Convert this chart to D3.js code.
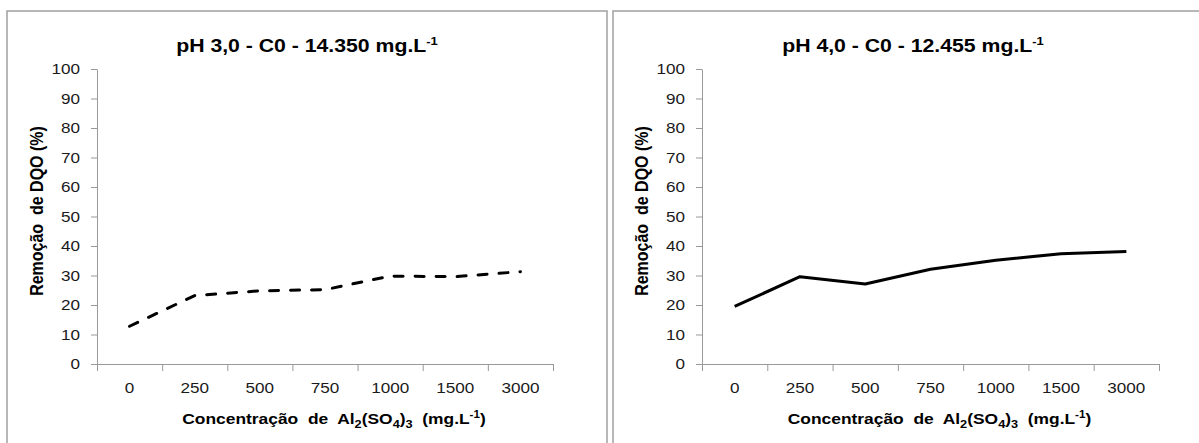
<!DOCTYPE html>
<html>
<head>
<meta charset="utf-8">
<script src="https://cdn.jsdelivr.net/npm/d3@7"></script>
<style>
  html, body { margin: 0; padding: 0; background: #fff; }
  svg text { font-family: "Liberation Sans", Arial, sans-serif; white-space: pre; }
</style>
</head>
<body>
<div class="d3"></div>
<script>
// data
const categories = ['0', '250', '500', '750', '1000', '1500', '3000'];
const removalPh3 = [12.8, 23.2, 24.8, 25.2, 29.8, 29.6, 31.3];
const removalPh4 = [19.5, 29.6, 27.1, 32.1, 35.2, 37.4, 38.1];
const yTicks = [0, 10, 20, 30, 40, 50, 60, 70, 80, 90, 100];
const titles = ['pH 3,0 - C0 - 14.350 mg.L', 'pH 4,0 - C0 - 12.455 mg.L'];

(() => {
  let width = 1199;
  let height = 443;
  let sx = 1.18; // source picture is stretched sideways

  let svg = d3
    .select('.d3')
    .append('svg')
    .attr('width', width)
    .attr('height', height);

  let panels = [
    { left: 7, axisX: 97, axisEnd: 553, values: removalPh3, title: titles[0], dashed: true },
    { left: 613, axisX: 702, axisEnd: 1159, values: removalPh4, title: titles[1], dashed: false }
  ];

  let y = d3.scaleLinear().domain([0, 100]).range([364, 69]);

  panels.forEach(p => {
    let g = svg.append('g');

    g.append('rect')
      .attr('x', p.left)
      .attr('y', 11)
      .attr('width', 600)
      .attr('height', 500)
      .attr('fill', 'none')
      .attr('stroke', '#a0a0a0')
      .attr('stroke-width', 1.5);

    let x = d3.scaleBand().domain(categories).range([p.axisX, p.axisEnd]).padding(0);

    // title
    let cx = (p.left + 300);
    let t = g.append('text')
      .attr('transform', `translate(${cx},52) scale(${sx},1)`)
      .attr('text-anchor', 'middle')
      .attr('font-size', 18)
      .attr('font-weight', 'bold')
      .attr('fill', '#000');
    t.append('tspan').text(p.title);
    t.append('tspan').attr('font-size', 11).attr('dy', -7).text('-1');

    // y axis
    let yAxis = g.append('g')
      .attr('transform', `translate(${p.axisX},0)`)
      .call(d3.axisLeft(y).tickValues(yTicks).tickSize(6).tickSizeOuter(0));
    yAxis.select('.domain').attr('stroke', '#999');
    yAxis.selectAll('.tick line').attr('stroke', '#999');
    yAxis.selectAll('.tick text')
      .attr('x', -17 / sx)
      .attr('transform', `scale(${sx},1)`)
      .attr('font-size', 14.5)
      .attr('fill', '#1a1a1a');

    // x axis: boundary ticks
    let edges = d3.scaleLinear().domain([0, categories.length]).range([p.axisX, p.axisEnd]);
    let xTicks = g.append('g')
      .attr('transform', 'translate(0,364)')
      .call(d3.axisBottom(edges)
        .tickValues(categories.map((c, i) => i).concat([categories.length]))
        .tickSize(7)
        .tickSizeOuter(0)
        .tickFormat(''));
    xTicks.select('.domain').attr('stroke', '#999');
    xTicks.selectAll('.tick line').attr('stroke', '#999');

    // x axis: category labels
    let xLabels = g.append('g')
      .attr('transform', 'translate(0,364)')
      .call(d3.axisBottom(x).tickSize(0));
    xLabels.select('.domain').remove();
    xLabels.selectAll('.tick text')
      .attr('y', 29)
      .attr('dy', 0)
      .attr('transform', `scale(${sx},1)`)
      .attr('font-size', 14.5)
      .attr('fill', '#1a1a1a');

    // x axis title
    let xt = g.append('text')
      .attr('transform', `translate(${(p.axisX + p.axisEnd) / 2 + 9},424) scale(1.16,1)`)
      .attr('text-anchor', 'middle')
      .attr('font-size', 15)
      .attr('font-weight', 'bold')
      .attr('fill', '#000');
    xt.append('tspan').text('Concentração  de  Al');
    xt.append('tspan').attr('font-size', 11).attr('dy', 4).text('2');
    xt.append('tspan').attr('dy', -4).text('(SO');
    xt.append('tspan').attr('font-size', 11).attr('dy', 4).text('4');
    xt.append('tspan').attr('dy', -4).text(')');
    xt.append('tspan').attr('font-size', 11).attr('dy', 4).text('3');
    xt.append('tspan').attr('dy', -4).text('  (mg.L');
    xt.append('tspan').attr('font-size', 10).attr('dy', -6).text('-1');
    xt.append('tspan').attr('dy', 6).text(')');

    // y axis title
    g.append('text')
      .attr('transform', `translate(${p.axisX - 54},211) rotate(-90) scale(1,1.15)`)
      .attr('text-anchor', 'middle')
      .attr('font-size', 16)
      .attr('font-weight', 'bold')
      .attr('fill', '#000')
      .text('Remoção  de DQO (%)');

    // the series
    let line = d3.line()
      .x((d, i) => x(categories[i]) + x.bandwidth() / 2)
      .y(d => y(d));

    g.append('path')
      .datum(p.values)
      .attr('fill', 'none')
      .attr('stroke', '#000')
      .attr('stroke-width', 3)
      .attr('stroke-linecap', p.dashed ? 'round' : 'butt')
      .attr('stroke-linejoin', 'round')
      .attr('stroke-dasharray', p.dashed ? '9,12' : null)
      .attr('d', line);
  });
})();
</script>
</body>
</html>
